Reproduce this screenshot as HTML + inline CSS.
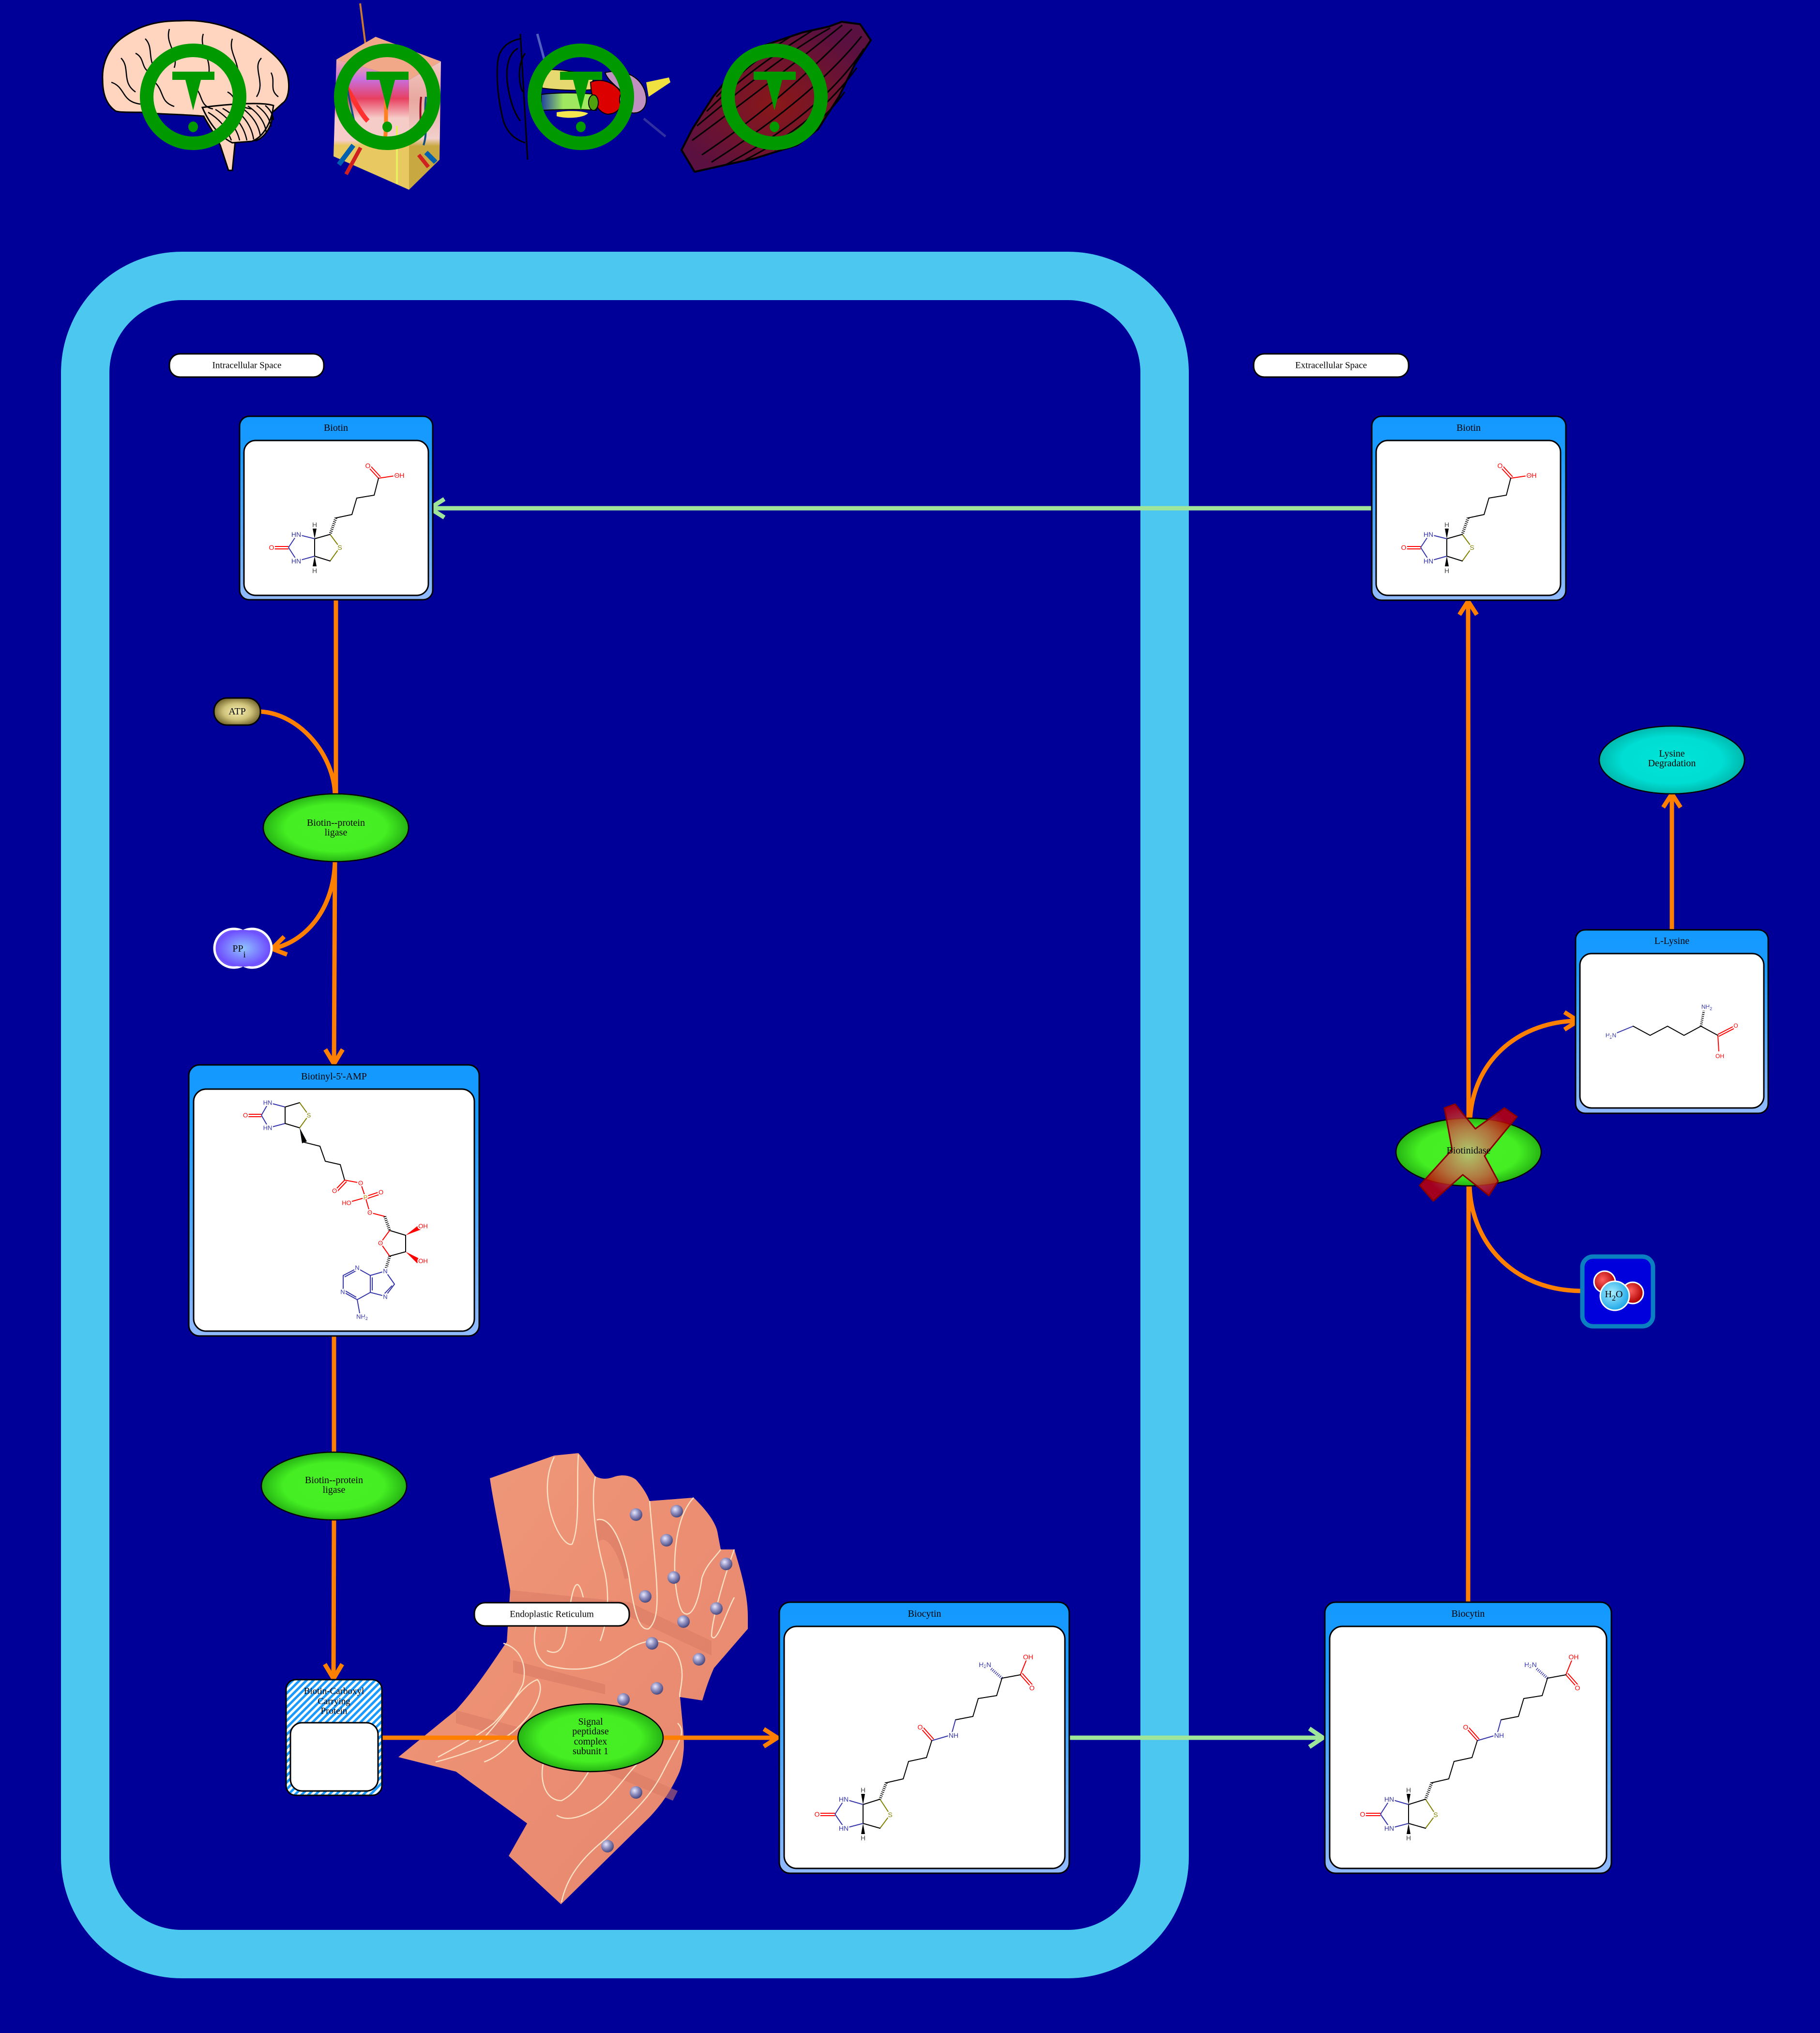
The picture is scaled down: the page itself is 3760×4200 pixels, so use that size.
<!DOCTYPE html>
<html><head><meta charset="utf-8"><style>
html,body{margin:0;padding:0;background:#000099;}
svg{display:block;}
.lbl{font-family:"Liberation Serif",serif;font-size:20px;fill:#000;text-anchor:middle;dominant-baseline:central;}
.at{font-family:"Liberation Sans",sans-serif;font-size:14px;text-anchor:middle;dominant-baseline:central;paint-order:stroke;stroke:#fff;stroke-width:5px;stroke-linejoin:round;}
.sm{font-size:12px;}
.b{stroke:#000;stroke-width:2;fill:none;stroke-linecap:round;}
.bn{stroke:#3333AA;stroke-width:2;fill:none;}
.bo{stroke:#FF0000;stroke-width:2;fill:none;}
.bs{stroke:#808000;stroke-width:2;fill:none;}
.hash{stroke:#000;stroke-width:6;stroke-dasharray:1.5 2.5;fill:none;}
.or{stroke:#FF8000;stroke-width:9;fill:none;}
.orh{stroke:#FF8000;stroke-width:9;fill:none;stroke-linejoin:miter;stroke-linecap:butt;}
.gr{stroke:#A0E69A;stroke-width:9;fill:none;}
.fold{stroke:#FBE0C4;stroke-width:2.5;fill:none;}
</style></head><body>
<svg xmlns="http://www.w3.org/2000/svg" width="3760" height="4200" viewBox="0 0 3760 4200">
<defs>
<linearGradient id="boxg" x1="0" y1="0" x2="0" y2="1">
<stop offset="0" stop-color="#1399FF"/><stop offset="0.2" stop-color="#1A9BFF"/><stop offset="1" stop-color="#92BAFF"/>
</linearGradient>
<radialGradient id="greenE" cx="0.5" cy="0.5" r="0.5">
<stop offset="0" stop-color="#48F024"/><stop offset="0.7" stop-color="#44EE22"/><stop offset="1" stop-color="#26B314"/>
</radialGradient>
<radialGradient id="cyanE" cx="0.5" cy="0.5" r="0.5">
<stop offset="0" stop-color="#00E4D8"/><stop offset="0.7" stop-color="#00DDD2"/><stop offset="1" stop-color="#00B8AE"/>
</radialGradient>
<radialGradient id="atpG" cx="0.5" cy="0.5" r="0.6">
<stop offset="0" stop-color="#FBF4B8"/><stop offset="0.5" stop-color="#CFC27A"/><stop offset="1" stop-color="#5E501C"/>
</radialGradient>
<radialGradient id="ppiG" cx="0.5" cy="0.5" r="0.55">
<stop offset="0" stop-color="#90C4FF"/><stop offset="1" stop-color="#6A40FF"/>
</radialGradient>
<radialGradient id="ballG" cx="0.38" cy="0.35" r="0.65">
<stop offset="0" stop-color="#E8E8FF"/><stop offset="0.5" stop-color="#9090C0"/><stop offset="1" stop-color="#4A4A80"/>
</radialGradient>
<radialGradient id="xG" cx="0.5" cy="0.5" r="0.5">
<stop offset="0" stop-color="#C8C080"/><stop offset="0.6" stop-color="#CC5040"/><stop offset="1" stop-color="#CC0000"/>
</radialGradient>
<radialGradient id="redC" cx="0.4" cy="0.4" r="0.6">
<stop offset="0" stop-color="#FF6060"/><stop offset="1" stop-color="#B00000"/>
</radialGradient>
<radialGradient id="cyC" cx="0.4" cy="0.4" r="0.6">
<stop offset="0" stop-color="#A8EEFF"/><stop offset="1" stop-color="#20A8E8"/>
</radialGradient>
<linearGradient id="erG" x1="0" y1="0" x2="1" y2="1">
<stop offset="0" stop-color="#F09A7C"/><stop offset="0.5" stop-color="#EC8E72"/><stop offset="1" stop-color="#E48770"/>
</linearGradient>
<radialGradient id="musG" cx="0.5" cy="0.55" r="0.55">
<stop offset="0" stop-color="#8A1818"/><stop offset="1" stop-color="#5A1040"/>
</radialGradient>
<linearGradient id="skinL" x1="0" y1="0" x2="0" y2="1">
<stop offset="0" stop-color="#F2B0A0"/><stop offset="0.15" stop-color="#C870E0"/><stop offset="0.3" stop-color="#E84060"/><stop offset="0.45" stop-color="#F6CCC8"/><stop offset="0.62" stop-color="#F6CCC8"/><stop offset="0.66" stop-color="#E8C860"/><stop offset="1" stop-color="#E8C860"/>
</linearGradient>
<linearGradient id="skinR" x1="0" y1="0" x2="0" y2="1">
<stop offset="0" stop-color="#F0C8C0"/><stop offset="0.3" stop-color="#E8A8A0"/><stop offset="0.6" stop-color="#F2D0CC"/><stop offset="0.66" stop-color="#C8A840"/><stop offset="1" stop-color="#C8A840"/>
</linearGradient>
<linearGradient id="earG" x1="0" y1="0" x2="1" y2="0">
<stop offset="0" stop-color="#2040A0"/><stop offset="0.4" stop-color="#A0E860"/><stop offset="1" stop-color="#A0E860"/>
</linearGradient>
<pattern id="hatch" width="10" height="10" patternUnits="userSpaceOnUse" patternTransform="rotate(45)">
<rect width="10" height="10" fill="#ffffff"/><rect width="5" height="10" fill="#1A9AFF"/>
</pattern>
</defs>

<rect x="0" y="0" width="3760" height="4200" fill="#000099"/>

<!-- cell membrane -->
<rect x="176" y="570" width="2230" height="3467" rx="200" ry="200" fill="none" stroke="#4CC8F0" stroke-width="100"/>

<!-- ===== organ icons ===== -->
<!-- brain -->
<g stroke="#000" stroke-width="3">
<path d="M 372 43 C 420 40 470 50 524 82 C 560 105 590 130 595 160 C 600 190 592 208 584 213 L 562 233 C 565 260 545 285 530 290 L 486 292 L 480 352 L 472 352 L 455 300 C 440 270 425 250 421 240 C 380 236 320 236 291 232 C 260 232 240 232 237 228 C 220 215 212 195 212 165 C 210 130 225 100 250 80 C 290 50 330 43 372 43 Z" fill="#FFD5C0"/>
<path d="M 418 222 C 470 215 540 210 565 218 C 560 260 540 285 520 292 L 480 295 C 450 280 430 250 418 222 Z" fill="#FFD5C0"/>
</g>
<g stroke="#000" stroke-width="2.5" fill="none">
<path d="M 300 80 C 320 100 300 130 330 150"/><path d="M 350 60 C 340 90 370 110 360 140"/><path d="M 420 70 C 410 100 440 120 430 160"/><path d="M 480 80 C 470 110 500 130 490 170"/><path d="M 540 120 C 520 140 550 170 530 200"/><path d="M 250 120 C 270 140 250 170 280 190"/><path d="M 230 170 C 260 180 250 210 290 215"/><path d="M 320 170 C 340 190 330 210 360 220"/><path d="M 400 180 C 420 190 410 220 440 225"/><path d="M 470 190 C 490 200 480 220 520 225"/><path d="M 560 150 C 570 170 555 185 575 200"/><path d="M 280 110 C 300 120 290 140 310 150"/>
<path d="M 430 232 C 460 250 470 270 478 290"/><path d="M 445 226 C 475 245 490 268 495 290"/><path d="M 460 224 C 490 240 505 265 510 290"/><path d="M 478 222 C 505 238 520 262 524 288"/><path d="M 495 220 C 520 236 535 258 538 282"/><path d="M 512 219 C 535 234 548 254 550 274"/><path d="M 530 218 C 550 232 558 248 560 262"/><path d="M 548 218 C 560 228 564 238 565 248"/>
</g>

<!-- skin -->
<line x1="744" y1="7" x2="779" y2="277" stroke="#C87830" stroke-width="4"/>
<polygon points="776,76 911,127 845,165 695,123" fill="#F0A888"/>
<polygon points="695,123 845,165 845,392 689,323" fill="url(#skinL)"/>
<polygon points="845,165 911,127 908,330 845,392" fill="url(#skinR)"/>
<g fill="none" stroke-width="4">
<path d="M 700 160 C 720 180 740 230 760 250" stroke="#FF3030" stroke-width="10"/>
<path d="M 715 170 C 720 200 730 240 740 290" stroke="#105080"/>
<path d="M 870 200 C 865 240 875 260 860 290" stroke="#901020"/>
<path d="M 880 200 C 875 240 885 270 875 300" stroke="#105080"/>
<path d="M 800 170 C 795 220 800 260 795 290" stroke="#FF8020" stroke-width="8"/>
<path d="M 820 260 L 820 380" stroke="#E8F060" stroke-width="4"/>
<path d="M 700 340 L 730 300" stroke="#0060B0" stroke-width="10"/>
<path d="M 715 360 L 745 305" stroke="#D02020" stroke-width="8"/>
<path d="M 900 335 L 880 315" stroke="#0060B0" stroke-width="10"/>
<path d="M 885 345 L 865 320" stroke="#D02020" stroke-width="8"/>
</g>

<!-- ear -->
<g fill="none" stroke="#000" stroke-width="3">
<path d="M 1075 80 C 1050 85 1030 100 1028 130 C 1025 170 1030 210 1040 250 C 1050 280 1070 290 1085 295"/>
<path d="M 1070 100 C 1050 110 1045 140 1048 170 C 1052 200 1060 230 1075 250"/>
<path d="M 1075 70 L 1090 330"/>
<path d="M 1085 110 C 1070 130 1070 170 1080 190"/>
</g>
<line x1="1110" y1="70" x2="1125" y2="125" stroke="#5060C0" stroke-width="5"/>
<path d="M 1120 145 C 1150 140 1190 150 1225 155 L 1225 185 C 1190 188 1150 186 1120 182 Z" fill="#E8D870" stroke="#000" stroke-width="2"/>
<path d="M 1118 195 C 1160 190 1200 192 1232 195 L 1232 228 C 1200 225 1160 226 1118 228 Z" fill="url(#earG)" stroke="#000" stroke-width="2"/>
<path d="M 1150 232 C 1170 228 1200 228 1215 234 C 1205 244 1170 246 1150 240 Z" fill="#F8E850"/>
<path d="M 1220 170 C 1240 160 1270 170 1282 190 C 1290 215 1280 235 1255 236 C 1235 232 1222 210 1220 170 Z" fill="#DD0000" stroke="#000" stroke-width="2"/>
<path d="M 1250 150 C 1290 140 1330 160 1335 200 C 1338 225 1320 238 1300 232 C 1280 225 1275 205 1285 190 C 1270 175 1255 165 1250 150 Z" fill="#C090C0" stroke="#000" stroke-width="2"/>
<path d="M 1335 170 L 1382 160 L 1385 170 L 1340 200 Z" fill="#F0E040"/>
<ellipse cx="1226" cy="212" rx="10" ry="16" fill="#50A010" stroke="#000" stroke-width="2"/>
<path d="M 1330 245 L 1375 282" stroke="#3030A0" stroke-width="5"/>

<!-- muscle -->
<path d="M 1739 45 L 1777 50 L 1799 83 L 1766 133 L 1733 200 L 1690 267 L 1647 300 L 1560 327 L 1435 355 L 1408 310 L 1430 267 L 1473 200 L 1527 133 L 1581 93 L 1658 67 L 1712 55 Z" fill="url(#musG)" stroke="#000" stroke-width="4" stroke-linejoin="round"/>
<g stroke="#000" stroke-width="3" fill="none">
<path d="M 1760 60 C 1700 120 1600 220 1450 320"/>
<path d="M 1780 75 C 1720 150 1620 240 1470 335"/>
<path d="M 1740 52 C 1680 100 1580 180 1430 290"/>
<path d="M 1715 58 C 1640 100 1560 160 1440 260"/>
<path d="M 1785 100 C 1740 170 1650 260 1500 340"/>
<path d="M 1770 140 C 1720 210 1640 280 1540 330"/>
<path d="M 1680 62 C 1620 100 1540 150 1460 230"/>
<path d="M 1640 72 C 1590 100 1530 150 1480 200"/>
<path d="M 1745 190 C 1710 240 1660 280 1600 310"/>
</g>

<!-- warning symbols -->
<g fill="#009900">
<g transform="translate(399,200)"><circle r="96" fill="none" stroke="#009900" stroke-width="28"/><rect x="-43" y="-52" width="87" height="17"/><polygon points="-16,-35 16,-35 0,28"/><ellipse cx="0" cy="62" rx="10" ry="11"/></g>
<g transform="translate(800,200)"><circle r="96" fill="none" stroke="#009900" stroke-width="28"/><rect x="-43" y="-52" width="87" height="17"/><polygon points="-16,-35 16,-35 0,28"/><ellipse cx="0" cy="62" rx="10" ry="11"/></g>
<g transform="translate(1200,200)"><circle r="96" fill="none" stroke="#009900" stroke-width="28"/><rect x="-43" y="-52" width="87" height="17"/><polygon points="-16,-35 16,-35 0,28"/><ellipse cx="0" cy="62" rx="10" ry="11"/></g>
<g transform="translate(1600,200)"><circle r="96" fill="none" stroke="#009900" stroke-width="28"/><rect x="-43" y="-52" width="87" height="17"/><polygon points="-16,-35 16,-35 0,28"/><ellipse cx="0" cy="62" rx="10" ry="11"/></g>
</g>

<!-- ===== ER ===== -->
<path d="M 1012 3054 L 1145 3007 L 1195 3002 C 1210 3020 1222 3040 1230 3050 C 1250 3060 1265 3052 1272 3050 C 1290 3045 1305 3050 1314 3057 C 1330 3075 1338 3090 1342 3101 L 1433 3094 C 1460 3120 1478 3145 1482 3164 L 1489 3201 L 1517 3201 C 1535 3260 1545 3300 1545 3340 L 1545 3365 L 1475 3446 C 1462 3475 1455 3500 1451 3513 L 1405 3506 C 1410 3560 1415 3600 1412 3620 C 1410 3645 1405 3660 1398 3673 C 1380 3710 1360 3735 1342 3754 L 1159 3934 L 1051 3834 L 1089 3767 L 942 3660 L 823 3630 L 942 3533 C 990 3480 1020 3430 1047 3392 L 1054 3285 C 1040 3200 1020 3110 1012 3054 Z" fill="url(#erG)"/>
<g fill="#D87A64" opacity="0.55">
<path d="M 1233 3140 C 1260 3130 1290 3200 1300 3260 L 1290 3262 C 1280 3210 1250 3160 1233 3190 Z"/>
<path d="M 1054 3285 L 1300 3310 L 1470 3390 L 1470 3420 L 1300 3340 L 1054 3310 Z"/>
<path d="M 942 3533 L 1150 3590 L 1400 3700 L 1390 3720 L 1150 3620 L 942 3560 Z"/>
<path d="M 1060 3430 L 1250 3480 L 1250 3500 L 1060 3455 Z"/>
</g>
<g class="fold">
<path d="M 1145 3010 C 1105 3090 1160 3200 1182 3190 C 1200 3150 1190 3060 1195 3005"/>
<path d="M 1233 3140 C 1265 3130 1290 3200 1300 3260 C 1310 3330 1320 3370 1340 3365 C 1370 3340 1355 3260 1342 3101"/>
<path d="M 1433 3094 C 1380 3150 1390 3300 1410 3330 C 1430 3350 1445 3300 1450 3260 C 1460 3230 1480 3215 1489 3201"/>
<path d="M 1517 3201 C 1495 3260 1470 3350 1470 3380 C 1480 3400 1500 3330 1517 3300"/>
<path d="M 900 3640 C 940 3630 1000 3610 1050 3585 C 1100 3550 1130 3490 1110 3470 C 1080 3480 1050 3530 1020 3560 C 990 3585 950 3605 905 3630"/>
<path d="M 1040 3395 C 1075 3405 1090 3440 1080 3480 C 1060 3520 1020 3570 990 3600"/>
<path d="M 1130 3620 C 1110 3660 1120 3720 1160 3720 C 1200 3700 1220 3650 1240 3620"/>
<path d="M 1160 3930 C 1170 3880 1200 3840 1250 3800 C 1300 3750 1340 3720 1370 3660 C 1400 3600 1420 3580 1400 3560"/>
<path d="M 1110 3350 C 1100 3380 1100 3420 1130 3440 C 1200 3460 1250 3440 1280 3420 C 1330 3380 1380 3380 1400 3420 C 1420 3460 1400 3500 1405 3506"/>
<path d="M 1205 3300 C 1190 3240 1180 3290 1170 3370 C 1165 3410 1150 3420 1130 3410"/>
<path d="M 1230 3050 C 1220 3100 1230 3180 1250 3250 C 1260 3300 1255 3350 1240 3390"/>
<path d="M 1150 3750 C 1180 3770 1230 3740 1250 3720 C 1280 3690 1300 3660 1320 3640"/>
<path d="M 1000 3640 C 1030 3630 1060 3600 1090 3560"/>
</g>
<g fill="url(#ballG)">
<circle cx="1314" cy="3129" r="13"/><circle cx="1398" cy="3122" r="13"/><circle cx="1377" cy="3182" r="13"/><circle cx="1500" cy="3231" r="13"/><circle cx="1392" cy="3259" r="13"/><circle cx="1333" cy="3298" r="13"/><circle cx="1480" cy="3323" r="13"/><circle cx="1412" cy="3350" r="13"/><circle cx="1347" cy="3395" r="13"/><circle cx="1444" cy="3428" r="13"/><circle cx="1357" cy="3488" r="13"/><circle cx="1288" cy="3511" r="13"/><circle cx="1314" cy="3703" r="13"/><circle cx="1255" cy="3814" r="13"/>
</g>

<!-- ===== compartment labels ===== -->
<rect x="350" y="731" width="319" height="48" rx="22" fill="#fff" stroke="#000" stroke-width="3"/>
<text class="lbl" x="510" y="755" style="font-size:19px">Intracellular Space</text>
<rect x="2590" y="731" width="320" height="48" rx="22" fill="#fff" stroke="#000" stroke-width="3"/>
<text class="lbl" x="2750" y="755" style="font-size:19px">Extracellular Space</text>
<rect x="980" y="3311" width="320" height="48" rx="22" fill="#fff" stroke="#000" stroke-width="3"/>
<text class="lbl" x="1140" y="3335" style="font-size:19px">Endoplastic Reticulum</text>

<!-- ===== connectors ===== -->
<line class="gr" x1="2834" y1="1050" x2="892" y2="1050"/>
<polyline class="gr" points="918,1031 888,1050 918,1069"/>
<line class="or" x1="694" y1="1239" x2="694" y2="1642"/>
<path class="or" d="M 538 1470 C 620 1475 690 1560 692 1642"/>
<line class="or" x1="692" y1="1778" x2="690" y2="2196"/>
<polyline class="orh" points="672,2168 690,2198 708,2168"/>
<path class="or" d="M 692 1778 C 690 1880 630 1945 566 1959"/>
<polyline class="orh" points="593,1972 562,1960 587,1935"/>
<line class="or" x1="690" y1="2760" x2="690" y2="3002"/>
<line class="or" x1="690" y1="3138" x2="689" y2="3466"/>
<polyline class="orh" points="671,3438 689,3468 707,3438"/>
<line class="or" x1="789" y1="3590" x2="1072" y2="3590"/>
<line class="or" x1="1368" y1="3590" x2="1604" y2="3590"/>
<polyline class="orh" points="1578,3572 1606,3590 1578,3608"/>
<line class="gr" x1="2209" y1="3590" x2="2731" y2="3590"/>
<polyline class="gr" points="2705,3571 2733,3590 2705,3609"/>
<line class="or" x1="3033" y1="3310" x2="3034" y2="2448"/>
<line class="or" x1="3034" y1="2312" x2="3033" y2="1244"/>
<polyline class="orh" points="3015,1270 3033,1242 3051,1270"/>
<path class="or" d="M 3265 2667 C 3120 2665 3038 2560 3036 2448"/>
<path class="or" d="M 3037 2312 C 3045 2180 3150 2110 3258 2109"/>
<polyline class="orh" points="3232,2091 3260,2109 3232,2127"/>
<line class="or" x1="3454" y1="1921" x2="3454" y2="1642"/>
<polyline class="orh" points="3436,1668 3454,1640 3472,1668"/>

<!-- ===== ellipses ===== -->
<ellipse cx="694" cy="1710" rx="150" ry="70" fill="url(#greenE)" stroke="#000" stroke-width="2.5"/>
<text class="lbl" x="694" y="1700">Biotin--protein</text><text class="lbl" x="694" y="1720">ligase</text>
<ellipse cx="690" cy="3070" rx="150" ry="70" fill="url(#greenE)" stroke="#000" stroke-width="2.5"/>
<text class="lbl" x="690" y="3058">Biotin--protein</text><text class="lbl" x="690" y="3078">ligase</text>
<ellipse cx="1220" cy="3590" rx="150" ry="70" fill="url(#greenE)" stroke="#000" stroke-width="2.5"/>
<text class="lbl" x="1220" y="3557">Signal</text><text class="lbl" x="1220" y="3577">peptidase</text><text class="lbl" x="1220" y="3598">complex</text><text class="lbl" x="1220" y="3618">subunit 1</text>
<ellipse cx="3034" cy="2380" rx="150" ry="70" fill="url(#greenE)" stroke="#000" stroke-width="2.5"/>
<ellipse cx="3454" cy="1570" rx="150" ry="70" fill="url(#cyanE)" stroke="#000" stroke-width="2.5"/>
<text class="lbl" x="3454" y="1557">Lysine</text><text class="lbl" x="3454" y="1577">Degradation</text>

<!-- red X -->
<path d="M 2984 2289 L 3006 2281 L 3048 2332 L 3108 2289 L 3134 2307 L 3067 2388 L 3095 2440 L 3076 2470 L 3022 2427 L 2961 2481 L 2933 2449 L 3000 2375 Z" fill="url(#xG)" fill-opacity="0.8" stroke="#880000" stroke-width="3" stroke-linejoin="round"/>
<text class="lbl" x="3034" y="2377">Biotinidase</text>

<!-- ATP -->
<rect x="442" y="1442" width="96" height="56" rx="27" fill="url(#atpG)" stroke="#000" stroke-width="3"/>
<text class="lbl" x="490" y="1470">ATP</text>
<!-- PPi -->
<g stroke="#fff" stroke-width="5"><circle cx="483" cy="1959" r="40" fill="url(#ppiG)"/><circle cx="521" cy="1959" r="40" fill="url(#ppiG)"/></g>
<ellipse cx="502" cy="1959" rx="56" ry="38" fill="url(#ppiG)"/>
<text class="lbl" x="494" y="1960">PP<tspan dy="12" font-size="18">i</tspan></text>

<!-- H2O -->
<rect x="3269" y="2596" width="146" height="144" rx="22" fill="#0000DD" stroke="#0A80C0" stroke-width="9"/>
<circle cx="3315" cy="2648" r="22" fill="url(#redC)" stroke="#fff" stroke-width="3"/>
<circle cx="3373" cy="2671" r="22" fill="url(#redC)" stroke="#fff" stroke-width="3"/>
<circle cx="3336" cy="2677" r="30" fill="url(#cyC)" stroke="#fff" stroke-width="3"/>
<text class="lbl" x="3334" y="2674">H<tspan dy="8" font-size="16">2</tspan><tspan dy="-8">O</tspan></text>

<!-- BCCP -->
<rect x="591" y="3470" width="198" height="239" rx="20" fill="url(#hatch)" stroke="#000" stroke-width="3"/>
<rect x="600" y="3559" width="181" height="141" rx="24" fill="#fff" stroke="#000" stroke-width="3"/>
<text class="lbl" x="690" y="3494" style="font-size:19px">Biotin-Carboxyl</text>
<text class="lbl" x="690" y="3515" style="font-size:19px">Carrying</text>
<text class="lbl" x="690" y="3535" style="font-size:19px">Protein</text>

<!-- ===== molecule boxes ===== -->
<rect x="495" y="860" width="399" height="379" rx="20" fill="url(#boxg)" stroke="#000" stroke-width="3"/>
<rect x="504" y="910" width="381" height="320" rx="24" fill="#fff" stroke="#000" stroke-width="3"/>
<text class="lbl" x="694" y="884">Biotin</text>
<g>
<line class="bo" x1="782" y1="988" x2="760" y2="964"/><line class="bo" x1="786" y1="985" x2="764" y2="961"/>
<line class="bo" x1="782" y1="988" x2="822" y2="982"/>
<polyline class="b" points="782,988 773,1023 737,1029 727,1063 694,1070"/>
<line class="hash" x1="694" y1="1070" x2="682" y2="1104"/>
<polyline class="bs" points="682,1104 702,1131 682,1159"/>
<polyline class="b" points="682,1159 650,1149 650,1113 682,1104"/>
<polygon points="650,1113 646,1092 654,1092" fill="#000"/><polygon points="650,1149 646,1170 654,1170" fill="#000"/>
<line class="bn" x1="650" y1="1113" x2="614" y2="1104"/><line class="bn" x1="650" y1="1149" x2="614" y2="1159"/>
<line class="bn" x1="614" y1="1104" x2="596" y2="1131"/><line class="bn" x1="614" y1="1159" x2="596" y2="1131"/>
<line class="bo" x1="596" y1="1129" x2="564" y2="1129"/><line class="bo" x1="596" y1="1134" x2="564" y2="1134"/>
<text class="at" x="760" y="962" fill="#FF0000">O</text>
<text class="at" x="825" y="982" fill="#FF0000">OH</text>
<text class="at" x="702" y="1131" fill="#808000">S</text>
<text class="at" x="612" y="1104" fill="#3333AA">HN</text>
<text class="at" x="612" y="1159" fill="#3333AA">HN</text>
<text class="at" x="561" y="1131" fill="#FF0000">O</text>
<text class="at" x="650" y="1084" fill="#444">H</text>
<text class="at" x="650" y="1179" fill="#444">H</text>
</g>

<rect x="2834" y="860" width="401" height="380" rx="20" fill="url(#boxg)" stroke="#000" stroke-width="3"/>
<rect x="2843" y="910" width="381" height="320" rx="24" fill="#fff" stroke="#000" stroke-width="3"/>
<text class="lbl" x="3034" y="884">Biotin</text>
<g transform="translate(2339,0)">
<line class="bo" x1="782" y1="988" x2="760" y2="964"/><line class="bo" x1="786" y1="985" x2="764" y2="961"/>
<line class="bo" x1="782" y1="988" x2="822" y2="982"/>
<polyline class="b" points="782,988 773,1023 737,1029 727,1063 694,1070"/>
<line class="hash" x1="694" y1="1070" x2="682" y2="1104"/>
<polyline class="bs" points="682,1104 702,1131 682,1159"/>
<polyline class="b" points="682,1159 650,1149 650,1113 682,1104"/>
<polygon points="650,1113 646,1092 654,1092" fill="#000"/><polygon points="650,1149 646,1170 654,1170" fill="#000"/>
<line class="bn" x1="650" y1="1113" x2="614" y2="1104"/><line class="bn" x1="650" y1="1149" x2="614" y2="1159"/>
<line class="bn" x1="614" y1="1104" x2="596" y2="1131"/><line class="bn" x1="614" y1="1159" x2="596" y2="1131"/>
<line class="bo" x1="596" y1="1129" x2="564" y2="1129"/><line class="bo" x1="596" y1="1134" x2="564" y2="1134"/>
<text class="at" x="760" y="962" fill="#FF0000">O</text>
<text class="at" x="825" y="982" fill="#FF0000">OH</text>
<text class="at" x="702" y="1131" fill="#808000">S</text>
<text class="at" x="612" y="1104" fill="#3333AA">HN</text>
<text class="at" x="612" y="1159" fill="#3333AA">HN</text>
<text class="at" x="561" y="1131" fill="#FF0000">O</text>
<text class="at" x="650" y="1084" fill="#444">H</text>
<text class="at" x="650" y="1179" fill="#444">H</text>
</g>

<rect x="390" y="2200" width="600" height="560" rx="22" fill="url(#boxg)" stroke="#000" stroke-width="3"/>
<rect x="400" y="2250" width="580" height="500" rx="26" fill="#fff" stroke="#000" stroke-width="3"/>
<text class="lbl" x="690" y="2224">Biotinyl-5'-AMP</text>
<g>
<line class="bo" x1="540" y1="2302" x2="510" y2="2302"/><line class="bo" x1="540" y1="2307" x2="510" y2="2307"/>
<line class="bn" x1="540" y1="2304" x2="555" y2="2278"/><line class="bn" x1="540" y1="2304" x2="555" y2="2330"/>
<line class="bn" x1="555" y1="2278" x2="589" y2="2287"/><line class="bn" x1="555" y1="2330" x2="589" y2="2321"/>
<polyline class="b" points="619,2278 589,2287 589,2321 619,2330"/>
<polyline class="bs" points="619,2278 638,2304 619,2330"/>
<polygon points="619,2330 624,2362 634,2358" fill="#000"/>
<polyline class="b" points="629,2360 661,2368 672,2399 703,2406 712,2438"/>
<line class="bo" x1="712" y1="2438" x2="691" y2="2460"/><line class="bo" x1="716" y1="2441" x2="695" y2="2463"/>
<line class="bo" x1="712" y1="2438" x2="745" y2="2444"/>
<line class="bo" x1="745" y1="2444" x2="755" y2="2474"/>
<line class="bo" x1="755" y1="2472" x2="785" y2="2462"/><line class="bo" x1="756" y1="2477" x2="786" y2="2467"/>
<line class="bo" x1="755" y1="2474" x2="720" y2="2484"/>
<line class="bo" x1="755" y1="2474" x2="764" y2="2505"/>
<line class="bo" x1="764" y1="2505" x2="795" y2="2513"/>
<line class="hash" x1="795" y1="2513" x2="805" y2="2542"/>
<polyline class="b" points="805,2542 838,2552 838,2586 805,2595"/>
<line class="bo" x1="805" y1="2595" x2="786" y2="2568"/><line class="bo" x1="786" y1="2568" x2="805" y2="2542"/>
<polygon points="838,2552 866,2530 870,2540" fill="#FF0000"/>
<polygon points="838,2586 866,2600 862,2610" fill="#FF0000"/>
<line class="hash" x1="805" y1="2595" x2="796" y2="2626"/>
<polyline class="bn" points="796,2626 815,2653 796,2678 765,2670 765,2635 796,2626"/>
<line class="bn" x1="810" y1="2656" x2="793" y2="2674"/>
<line class="bn" x1="769" y1="2666" x2="769" y2="2639"/>
<polyline class="bn" points="765,2635 738,2620 709,2635 709,2669 738,2685 765,2670"/>
<line class="bn" x1="712" y1="2638" x2="736" y2="2625"/>
<line class="bn" x1="712" y1="2666" x2="736" y2="2680"/>
<line class="bn" x1="738" y1="2685" x2="744" y2="2718"/>
<text class="at" x="507" y="2304" fill="#FF0000" style="font-size:13px">O</text>
<text class="at" x="553" y="2278" fill="#3333AA" style="font-size:13px">HN</text>
<text class="at" x="553" y="2330" fill="#3333AA" style="font-size:13px">HN</text>
<text class="at" x="638" y="2304" fill="#808000" style="font-size:13px">S</text>
<text class="at" x="691" y="2460" fill="#FF0000" style="font-size:13px">O</text>
<text class="at" x="745" y="2444" fill="#FF0000" style="font-size:13px">O</text>
<text class="at" x="755" y="2474" fill="#CC8800" style="font-size:13px">P</text>
<text class="at" x="787" y="2463" fill="#FF0000" style="font-size:13px">O</text>
<text class="at" x="716" y="2485" fill="#FF0000" style="font-size:13px">HO</text>
<text class="at" x="764" y="2505" fill="#FF0000" style="font-size:13px">O</text>
<text class="at" x="874" y="2533" fill="#FF0000" style="font-size:13px">OH</text>
<text class="at" x="874" y="2605" fill="#FF0000" style="font-size:13px">OH</text>
<text class="at" x="786" y="2568" fill="#FF0000" style="font-size:13px">O</text>
<text class="at" x="796" y="2626" fill="#3333AA" style="font-size:13px">N</text>
<text class="at" x="796" y="2679" fill="#3333AA" style="font-size:13px">N</text>
<text class="at" x="738" y="2619" fill="#3333AA" style="font-size:13px">N</text>
<text class="at" x="708" y="2669" fill="#3333AA" style="font-size:13px">N</text>
<text class="at" x="748" y="2720" fill="#3333AA" style="font-size:13px">NH<tspan dy="4" font-size="9">2</tspan></text>
</g>

<rect x="1610" y="3310" width="599" height="560" rx="22" fill="url(#boxg)" stroke="#000" stroke-width="3"/>
<rect x="1620" y="3360" width="580" height="500" rx="26" fill="#fff" stroke="#000" stroke-width="3"/>
<text class="lbl" x="1910" y="3334">Biocytin</text>
<g>
<line class="bo" x1="2108" y1="3460" x2="2123" y2="3423"/>
<line class="bo" x1="2108" y1="3460" x2="2131" y2="3486"/><line class="bo" x1="2112" y1="3457" x2="2135" y2="3483"/>
<line class="b" x1="2108" y1="3460" x2="2070" y2="3467"/>
<line class="hash" x1="2070" y1="3467" x2="2046" y2="3446" style="stroke:#3333AA"/>
<polyline class="b" points="2070,3467 2059,3503 2021,3509 2010,3546 1974,3553"/>
<line class="bn" x1="1974" y1="3553" x2="1966" y2="3582"/>
<line class="bn" x1="1966" y1="3584" x2="1925" y2="3596"/>
<line class="bo" x1="1925" y1="3596" x2="1901" y2="3569"/><line class="bo" x1="1929" y1="3593" x2="1905" y2="3566"/>
<polyline class="b" points="1925,3596 1914,3631 1877,3639 1866,3675 1831,3683"/>
<line class="hash" x1="1831" y1="3683" x2="1818" y2="3717"/>
<polyline class="bs" points="1818,3717 1839,3749 1818,3777"/>
<polyline class="b" points="1818,3777 1783,3767 1783,3728 1818,3717"/>
<polygon points="1783,3728 1779,3706 1787,3706" fill="#000"/><polygon points="1783,3767 1779,3789 1787,3789" fill="#000"/>
<line class="bn" x1="1783" y1="3728" x2="1745" y2="3717"/><line class="bn" x1="1783" y1="3767" x2="1745" y2="3777"/>
<line class="bn" x1="1745" y1="3717" x2="1725" y2="3748"/><line class="bn" x1="1745" y1="3777" x2="1725" y2="3748"/>
<line class="bo" x1="1725" y1="3746" x2="1692" y2="3746"/><line class="bo" x1="1725" y1="3751" x2="1692" y2="3751"/>
<text class="at" x="2124" y="3423" fill="#FF0000">OH</text>
<text class="at" x="2035" y="3439" fill="#3333AA">H<tspan dy="4" font-size="10">2</tspan><tspan dy="-4">N</tspan></text>
<text class="at" x="2132" y="3487" fill="#FF0000">O</text>
<text class="at" x="1970" y="3585" fill="#3333AA">NH</text>
<text class="at" x="1901" y="3568" fill="#FF0000">O</text>
<text class="at" x="1839" y="3749" fill="#808000">S</text>
<text class="at" x="1783" y="3698" fill="#444">H</text>
<text class="at" x="1783" y="3797" fill="#444">H</text>
<text class="at" x="1743" y="3717" fill="#3333AA">HN</text>
<text class="at" x="1743" y="3777" fill="#3333AA">HN</text>
<text class="at" x="1688" y="3748" fill="#FF0000">O</text>
</g>

<rect x="2737" y="3310" width="592" height="560" rx="22" fill="url(#boxg)" stroke="#000" stroke-width="3"/>
<rect x="2747" y="3360" width="572" height="500" rx="26" fill="#fff" stroke="#000" stroke-width="3"/>
<text class="lbl" x="3033" y="3334">Biocytin</text>
<g transform="translate(1127,0)">
<line class="bo" x1="2108" y1="3460" x2="2123" y2="3423"/>
<line class="bo" x1="2108" y1="3460" x2="2131" y2="3486"/><line class="bo" x1="2112" y1="3457" x2="2135" y2="3483"/>
<line class="b" x1="2108" y1="3460" x2="2070" y2="3467"/>
<line class="hash" x1="2070" y1="3467" x2="2046" y2="3446" style="stroke:#3333AA"/>
<polyline class="b" points="2070,3467 2059,3503 2021,3509 2010,3546 1974,3553"/>
<line class="bn" x1="1974" y1="3553" x2="1966" y2="3582"/>
<line class="bn" x1="1966" y1="3584" x2="1925" y2="3596"/>
<line class="bo" x1="1925" y1="3596" x2="1901" y2="3569"/><line class="bo" x1="1929" y1="3593" x2="1905" y2="3566"/>
<polyline class="b" points="1925,3596 1914,3631 1877,3639 1866,3675 1831,3683"/>
<line class="hash" x1="1831" y1="3683" x2="1818" y2="3717"/>
<polyline class="bs" points="1818,3717 1839,3749 1818,3777"/>
<polyline class="b" points="1818,3777 1783,3767 1783,3728 1818,3717"/>
<polygon points="1783,3728 1779,3706 1787,3706" fill="#000"/><polygon points="1783,3767 1779,3789 1787,3789" fill="#000"/>
<line class="bn" x1="1783" y1="3728" x2="1745" y2="3717"/><line class="bn" x1="1783" y1="3767" x2="1745" y2="3777"/>
<line class="bn" x1="1745" y1="3717" x2="1725" y2="3748"/><line class="bn" x1="1745" y1="3777" x2="1725" y2="3748"/>
<line class="bo" x1="1725" y1="3746" x2="1692" y2="3746"/><line class="bo" x1="1725" y1="3751" x2="1692" y2="3751"/>
<text class="at" x="2124" y="3423" fill="#FF0000">OH</text>
<text class="at" x="2035" y="3439" fill="#3333AA">H<tspan dy="4" font-size="10">2</tspan><tspan dy="-4">N</tspan></text>
<text class="at" x="2132" y="3487" fill="#FF0000">O</text>
<text class="at" x="1970" y="3585" fill="#3333AA">NH</text>
<text class="at" x="1901" y="3568" fill="#FF0000">O</text>
<text class="at" x="1839" y="3749" fill="#808000">S</text>
<text class="at" x="1783" y="3698" fill="#444">H</text>
<text class="at" x="1783" y="3797" fill="#444">H</text>
<text class="at" x="1743" y="3717" fill="#3333AA">HN</text>
<text class="at" x="1743" y="3777" fill="#3333AA">HN</text>
<text class="at" x="1688" y="3748" fill="#FF0000">O</text>
</g>

<rect x="3255" y="1921" width="398" height="379" rx="20" fill="url(#boxg)" stroke="#000" stroke-width="3"/>
<rect x="3264" y="1970" width="380" height="319" rx="24" fill="#fff" stroke="#000" stroke-width="3"/>
<text class="lbl" x="3454" y="1944">L-Lysine</text>
<g>
<line class="bn" x1="3340" y1="2134" x2="3374" y2="2120"/>
<polyline class="b" points="3374,2120 3409,2139 3445,2120 3479,2139 3514,2120 3549,2139"/>
<line class="hash" x1="3514" y1="2120" x2="3520" y2="2088" style="stroke-width:5"/>
<line class="bo" x1="3549" y1="2137" x2="3580" y2="2121"/><line class="bo" x1="3551" y1="2141" x2="3582" y2="2125"/>
<line class="bo" x1="3549" y1="2139" x2="3551" y2="2172"/>
<text class="at sm" x="3328" y="2139" fill="#3333AA">H<tspan dy="4" font-size="9">2</tspan><tspan dy="-4">N</tspan></text>
<text class="at sm" x="3526" y="2080" fill="#3333AA">NH<tspan dy="4" font-size="9">2</tspan></text>
<text class="at sm" x="3586" y="2119" fill="#FF0000">O</text>
<text class="at sm" x="3553" y="2182" fill="#FF0000">OH</text>
</g>

</svg>
</body></html>
